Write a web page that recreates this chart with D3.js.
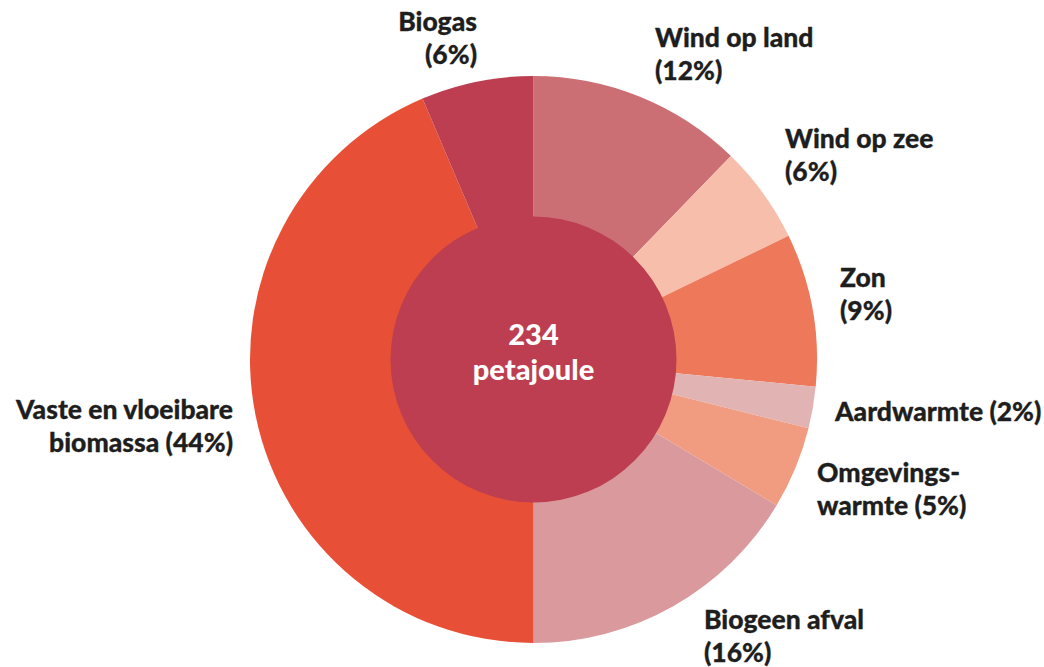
<!DOCTYPE html>
<html><head><meta charset="utf-8">
<script src="https://cdn.jsdelivr.net/npm/d3@7"></script>
<style>body{margin:0;background:#fff}svg{display:block}</style>
</head><body>
<svg id="chart" width="1044" height="667"></svg>
<script>
const categories = ["Wind op land","Wind op zee","Zon","Aardwarmte","Omgevingswarmte","Biogeen afval","Vaste en vloeibare biomassa","Biogas"];
const shares = [12.26,5.55,8.72,2.37,4.7,16.4,43.6,6.4];
const colors = ["#cc6f74","#f7bfab","#ee785a","#e1b3b3","#f19c80","#da9a9d","#e75036","#bc3e50"];
const labelLines = [["Wind op land","(12%)"],["Wind op zee","(6%)"],["Zon","(9%)"],["Aardwarmte (2%)"],["Omgevings-","warmte (5%)"],["Biogeen afval","(16%)"],["Vaste en vloeibare","biomassa (44%)"],["Biogas","(6%)"]];
const centerLines = ["234","petajoule"];

const svg = d3.select("#chart");
const cx = 533.5, cy = 359.5, R = 283.5, r0 = 143;
const g = svg.append("g").attr("transform", `translate(${cx},${cy})`);
const pie = d3.pie().sort(null).value(d => d)(shares);
const arc = d3.arc().innerRadius(0).outerRadius(R);
g.selectAll("path").data(pie).join("path")
  .attr("d", arc).attr("fill", (d,i) => colors[i]);
g.append("circle").attr("r", r0).attr("fill", colors[7]);

// label anchors: [x, firstBaseline, anchor]
const labelPos = [[655,47,"start"],[785,148,"start"],[840,287,"start"],[835,421,"start"],[817,482,"start"],[704,629,"start"],[233,419,"end"],[477,31,"end"]];
const font = "Lato, 'Open Sans', sans-serif";
labelLines.forEach((lines,i) => {
  const [x,y,a] = labelPos[i];
  const t = svg.append("text").attr("x",x).attr("y",y).attr("text-anchor",a)
    .attr("font-family",font).attr("font-weight",900).attr("font-size",26.5).attr("fill","#1e1e1e")
    .attr("stroke","#1e1e1e").attr("stroke-width",0.3);
  lines.forEach((l,j) => t.append("tspan").attr("x",x).attr("dy", j ? 32.5 : 0).text(l));
});
const ct = svg.append("text").attr("x",cx).attr("y",345).attr("text-anchor","middle")
  .attr("font-family",font).attr("font-weight",900).attr("font-size",29).attr("fill","#fff");
centerLines.forEach((l,j) => ct.append("tspan").attr("x",cx).attr("dy", j ? 35 : 0).text(l));
</script>
</body></html>
